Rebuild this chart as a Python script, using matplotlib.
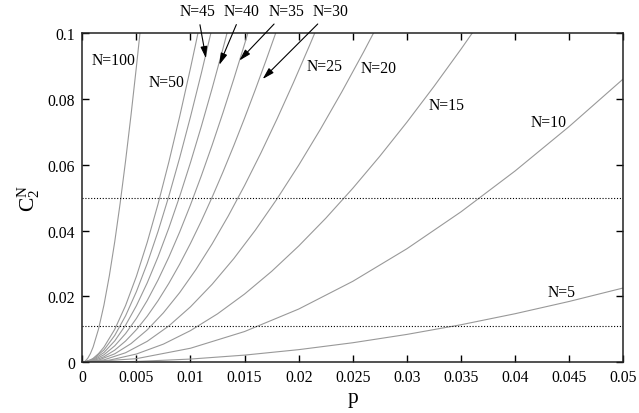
import matplotlib
matplotlib.use("Agg")
import matplotlib.pyplot as plt

# values: C_2^N against p, one curve per N
p_n100 = [0, 0.00025, 0.0005, 0.00075, 0.001, 0.0015, 0.002, 0.0025, 0.003,
          0.0035, 0.004, 0.0045, 0.005, 0.0055]
c_n100 = [0, 0.00030, 0.00120, 0.00265, 0.00464, 0.01010, 0.01739, 0.02632, 0.03670,
          0.04839, 0.06123, 0.07508, 0.08982, 0.10533]

p_n50 = [0, 0.0005, 0.001, 0.0015, 0.002, 0.003, 0.004, 0.005, 0.006, 0.007,
         0.008, 0.009, 0.010, 0.0105, 0.011]
c_n50 = [0, 0.00030, 0.00119, 0.00263, 0.00460, 0.01002, 0.01726, 0.02613, 0.03646, 0.04810,
         0.06089, 0.07472, 0.08943, 0.09709, 0.10493]

p_n45 = [0, 0.001, 0.002, 0.003, 0.004, 0.005, 0.006, 0.007, 0.008, 0.009,
         0.010, 0.011, 0.012, 0.013]
c_n45 = [0, 0.00096, 0.00374, 0.00818, 0.01413, 0.02147, 0.03005, 0.03977, 0.05050, 0.06216,
         0.07464, 0.08784, 0.10168, 0.11609]

p_n40 = [0, 0.001, 0.002, 0.003, 0.004, 0.005, 0.006, 0.007, 0.008, 0.009,
         0.010, 0.011, 0.012, 0.013, 0.014]
c_n40 = [0, 0.00076, 0.00297, 0.00651, 0.01128, 0.01719, 0.02414, 0.03206, 0.04084, 0.05043,
         0.06073, 0.07170, 0.08326, 0.09534, 0.10791]

p_n35 = [0, 0.001, 0.002, 0.003, 0.004, 0.005, 0.006, 0.007, 0.008, 0.009,
         0.010, 0.011, 0.012, 0.013, 0.014, 0.015, 0.016]
c_n35 = [0, 0.00058, 0.00228, 0.00501, 0.00872, 0.01333, 0.01878, 0.02502, 0.03198, 0.03961,
         0.04786, 0.05668, 0.06602, 0.07584, 0.08609, 0.09675, 0.10776]

p_n30 = [0, 0.001, 0.002, 0.003, 0.004, 0.005, 0.006, 0.007, 0.008, 0.009,
         0.010, 0.011, 0.012, 0.013, 0.014, 0.015, 0.016, 0.017, 0.018, 0.019]
c_n30 = [0, 0.00043, 0.00168, 0.00370, 0.00646, 0.00991, 0.01401, 0.01872, 0.02400, 0.02982,
         0.03615, 0.04294, 0.05018, 0.05783, 0.06585, 0.07423, 0.08294, 0.09194, 0.10123, 0.11077]

p_n25 = [0, 0.0015, 0.003, 0.0045, 0.006, 0.0075, 0.009, 0.0105, 0.012,
         0.0135, 0.015, 0.0165, 0.018, 0.0195, 0.021, 0.022, 0.023]
c_n25 = [0, 0.00066, 0.00258, 0.00567, 0.00985, 0.01505, 0.02118, 0.02818, 0.03599,
         0.04453, 0.05374, 0.06358, 0.07398, 0.08490, 0.09628, 0.10411, 0.11210]

p_n20 = [0, 0.002, 0.004, 0.006, 0.008, 0.010, 0.012, 0.014, 0.016, 0.018,
         0.020, 0.022, 0.024, 0.026, 0.028]
c_n20 = [0, 0.00074, 0.00290, 0.00637, 0.01105, 0.01686, 0.02371, 0.03151, 0.04019, 0.04968,
         0.05990, 0.07079, 0.08228, 0.09433, 0.10686]

p_n15 = [0, 0.0025, 0.005, 0.0075, 0.010, 0.0125, 0.015, 0.0175, 0.020,
         0.0225, 0.025, 0.0275, 0.030, 0.0325, 0.035, 0.0375, 0.040]
c_n15 = [0, 0.00064, 0.00251, 0.00553, 0.00963, 0.01473, 0.02075, 0.02764, 0.03534,
         0.04377, 0.05289, 0.06264, 0.07297, 0.08383, 0.09517, 0.10694, 0.11911]

p_n10 = [0, 0.005, 0.010, 0.015, 0.020, 0.025, 0.030, 0.035, 0.040, 0.045, 0.050]
c_n10 = [0, 0.00110, 0.00427, 0.00935, 0.01618, 0.02461, 0.03451, 0.04573, 0.05815, 0.07167, 0.08614]

p_n5 = [0, 0.005, 0.010, 0.015, 0.020, 0.025, 0.030, 0.035, 0.040, 0.045, 0.050]
c_n5 = [0, 0.00025, 0.00098, 0.00218, 0.00384, 0.00594, 0.00847, 0.01141, 0.01476, 0.01849, 0.02259]

# dotted reference levels
levels = [0.05, 0.011]

# curve labels placed inside the plot
plain_labels = ["N=100", "N=50", "N=25", "N=20", "N=15", "N=10", "N=5"]
plain_x = [0.00287, 0.0078, 0.0224, 0.0274, 0.0337, 0.0431, 0.0443]
plain_y = [0.0920, 0.0851, 0.0900, 0.0894, 0.0782, 0.0731, 0.0215]

# labels above the frame with arrows pointing to their curves
arrow_labels = ["N=45", "N=40", "N=35", "N=30"]
arrow_text_x = [0.01065, 0.01476, 0.01885, 0.02294]
arrow_text_y = [0.1067, 0.1067, 0.1067, 0.1067]
arrow_tip_x = [0.01143, 0.01266, 0.01451, 0.01667]
arrow_tip_y = [0.0924, 0.0904, 0.0917, 0.0861]

x_ticks = [0, 0.005, 0.01, 0.015, 0.02, 0.025, 0.03, 0.035, 0.04, 0.045, 0.05]
x_tick_labels = ["0", "0.005", "0.01", "0.015", "0.02", "0.025", "0.03", "0.035", "0.04", "0.045", "0.05"]
y_ticks = [0, 0.02, 0.04, 0.06, 0.08, 0.1]
y_tick_labels = ["0", "0.02", "0.04", "0.06", "0.08", "0.1"]


def main():
    plt.rcParams["font.family"] = "serif"
    plt.rcParams["font.serif"] = ["Liberation Serif", "DejaVu Serif"]
    plt.rcParams["mathtext.fontset"] = "custom"
    plt.rcParams["mathtext.rm"] = "Liberation Serif"

    fig = plt.figure(figsize=(6.39, 4.14), dpi=100)
    ax = fig.add_axes([0.1288, 0.1225, 0.8466, 0.7947])

    gray = (0.6, 0.6, 0.6)
    curves = [(p_n100, c_n100), (p_n50, c_n50), (p_n45, c_n45), (p_n40, c_n40),
              (p_n35, c_n35), (p_n30, c_n30), (p_n25, c_n25), (p_n20, c_n20),
              (p_n15, c_n15), (p_n10, c_n10), (p_n5, c_n5)]
    for px, cy in curves:
        ax.plot(px, cy, color=gray, linewidth=0.8)

    for lv in levels:
        ax.axhline(lv, color="k", linestyle=(0, (1, 1.6)), linewidth=0.8)

    ax.set_xlim(0, 0.05)
    ax.set_ylim(0, 0.1)

    for lab, tx, ty in zip(plain_labels, plain_x, plain_y):
        ax.text(tx, ty, lab, fontsize=11.3, ha="center", va="center")

    for lab, tx, ty, hx, hy in zip(arrow_labels, arrow_text_x, arrow_text_y, arrow_tip_x, arrow_tip_y):
        ax.annotate(lab, xy=(hx, hy), xytext=(tx, ty), fontsize=11.3,
                    ha="center", va="center", annotation_clip=False,
                    arrowprops=dict(arrowstyle="-|>,head_length=0.7,head_width=0.2",
                                    color="k", lw=0.8, shrinkA=2, shrinkB=0,
                                    mutation_scale=10))

    ax.set_xticks(x_ticks)
    ax.set_xticklabels(x_tick_labels)
    ax.set_yticks(y_ticks)
    ax.set_yticklabels(y_tick_labels)
    ax.tick_params(direction="in", length=5, width=1, top=True, right=True,
                   labelsize=11.3, pad=5)

    for sp in ax.spines.values():
        sp.set_linewidth(1.1)
        sp.set_color("#222222")

    ax.set_xlabel("p", fontsize=15.5, labelpad=2)
    ax.set_ylabel(r"$\mathregular{C_2^N}$", fontsize=15.5, labelpad=4)

    fig.savefig("out.png", dpi=100)


if __name__ == "__main__":
    main()
